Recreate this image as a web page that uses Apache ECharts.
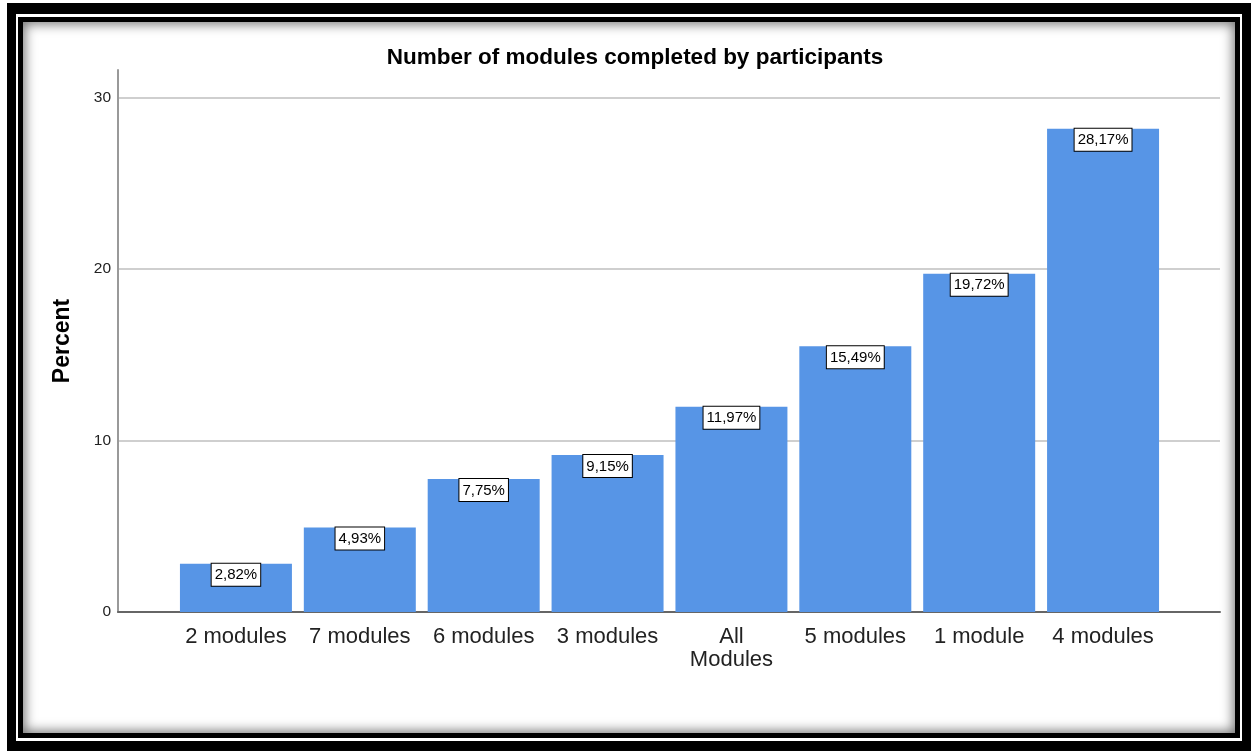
<!DOCTYPE html>
<html>
<head>
<meta charset="utf-8">
<script src="https://cdn.jsdelivr.net/npm/echarts@6/dist/echarts.min.js"></script>
<style>
  html, body { margin: 0; padding: 0; background: #fff; width: 1251px; height: 751px; overflow: hidden; }
  .frame-outer { position: absolute; left: 7px; top: 3px; right: 0; bottom: 0; background: #000; }
  .frame-line { position: absolute; left: 16px; top: 14px; width: 1226px; height: 727px; background: #fff; }
  .frame-inner { position: absolute; left: 18px; top: 17px; width: 1222px; height: 721px; background: #000; }
  .panel { position: absolute; left: 23px; top: 22px; width: 1212px; height: 711px; background: #fff;
           box-shadow: inset 0 0 12px 2px rgba(0,0,0,0.55); }
  #chart { position: absolute; left: 0; top: 0; width: 1251px; height: 751px; }
</style>
</head>
<body>
<div class="frame-outer"></div>
<div class="frame-line"></div>
<div class="frame-inner"></div>
<div class="panel"></div>
<div id="chart"></div>
<script>
// Share of participants by number of modules completed
const categories = ['2 modules', '7 modules', '6 modules', '3 modules', 'All Modules', '5 modules', '1 module', '4 modules'];
const percents = [2.82, 4.93, 7.75, 9.15, 11.97, 15.49, 19.72, 28.17];
const yTicks = [0, 10, 20, 30];

const FONT = "'Liberation Sans', Arial, sans-serif";
const Y_MAX = 31.6;

const chart = echarts.init(document.getElementById('chart'), null, { renderer: 'canvas' });

chart.setOption({
  backgroundColor: 'transparent',
  animation: false,
  title: {
    text: 'Number of modules completed by participants',
    left: 630,
    textAlign: 'center',
    top: 41,
    textStyle: { fontFamily: FONT, fontSize: 22.5, fontWeight: 'bold', color: '#000' }
  },
  grid: [
    // frame grid: axis lines and gridlines
    { left: 118, right: 31, top: 70, bottom: 139 },
    // bar grid: categories are inset from the axis ends
    { left: 174, right: 86, top: 70, bottom: 139 }
  ],
  xAxis: [
    {
      gridIndex: 0, type: 'value', min: 0, max: 1,
      axisLine: { show: true, lineStyle: { color: '#666', width: 2 } },
      axisTick: { show: false }, axisLabel: { show: false }, splitLine: { show: false }
    },
    {
      gridIndex: 1, type: 'category', data: categories,
      axisLine: { show: false }, axisTick: { show: false },
      axisLabel: {
        interval: 0,
        margin: 13,
        fontFamily: FONT, fontSize: 22, color: '#222', lineHeight: 23,
        formatter: v => v.replace('All ', 'All\n')
      }
    }
  ],
  yAxis: [
    {
      gridIndex: 0, type: 'value', min: 0, max: Y_MAX, interval: 10,
      name: 'Percent', nameLocation: 'middle', nameRotate: 90, nameGap: 44,
      nameTextStyle: { fontFamily: FONT, fontSize: 23, fontWeight: 'bold', color: '#000' },
      axisLine: { show: true, lineStyle: { color: '#999', width: 2 } },
      axisTick: { show: false },
      axisLabel: {
        margin: 7, fontFamily: FONT, fontSize: 15.5, color: '#222',
        showMaxLabel: false,
        formatter: v => (yTicks.includes(v) ? String(v) : '')
      },
      splitLine: { show: true, showMinLine: false, showMaxLine: false, lineStyle: { color: '#cfcfcf', width: 2 } }
    },
    {
      gridIndex: 1, type: 'value', min: 0, max: Y_MAX, interval: 10,
      axisLine: { show: false }, axisTick: { show: false }, axisLabel: { show: false }, splitLine: { show: false }
    }
  ],
  series: [{
    type: 'bar',
    xAxisIndex: 1, yAxisIndex: 1,
    data: percents,
    barCategoryGap: '9.6%',
    itemStyle: { color: '#5795e6' },
    label: {
      show: true,
      position: 'insideTop',
      distance: 0,
      formatter: p => p.value.toFixed(2).replace('.', ',') + '%',
      fontFamily: FONT, fontSize: 15, color: '#000',
      backgroundColor: '#fff', borderColor: '#000', borderWidth: 1,
      padding: [4, 3, 3, 3]
    }
  }]
});
</script>
</body>
</html>
